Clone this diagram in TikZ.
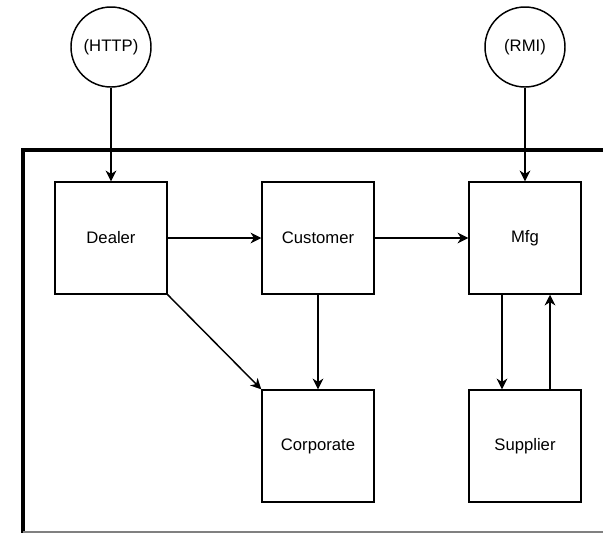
\documentclass[tikz,border=0pt]{standalone}
\usepackage{fontspec}
\setmainfont{Liberation Sans}
\usetikzlibrary{arrows.meta}
\begin{document}
\begin{tikzpicture}[x=0.75pt,y=-0.75pt,
  box/.style={draw,line width=1.1pt,minimum width=84pt,minimum height=84pt,inner sep=0pt,font=\fontsize{12.5}{14}\selectfont},
  portal/.style={draw,circle,line width=1.1pt,minimum size=60pt,inner sep=0pt,font=\fontsize{12.5}{14}\selectfont},
  conn/.style={line width=1.1pt,-{Stealth[length=8pt,width=8pt,inset=2.5pt]}}]
\useasboundingbox (0,0) rectangle (603,533);
% frame
\draw[line width=2.4pt] (603,150) -- (23,150) -- (23,533);
\draw[gray,line width=0.9pt] (23,532) -- (603,532);
% nodes
\node[portal] (http) at (111,47) {(HTTP)};
\node[portal] (rmi) at (525,47) {(RMI)};
\node[box] (dealer) at (111,238) {Dealer};
\node[box] (customer) at (318,238) {Customer};
\node[box] (mfg) at (525,238) {Mfg};
\node[box] (corporate) at (318,446) {Corporate};
\node[box] (supplier) at (525,446) {Supplier};
% connectors
\draw[conn] (http) -- (dealer);
\draw[conn] (rmi) -- (mfg);
\draw[conn] (dealer) -- (customer);
\draw[conn] (customer) -- (mfg);
\draw[conn] (dealer.south east) -- (corporate.north west);
\draw[conn] (customer) -- (corporate);
\draw[conn] ([xshift=-17.25pt]mfg.south) -- ([xshift=-17.25pt]supplier.north);
\draw[conn] ([xshift=18.75pt]supplier.north) -- ([xshift=18.75pt]mfg.south);
\end{tikzpicture}
\end{document}
